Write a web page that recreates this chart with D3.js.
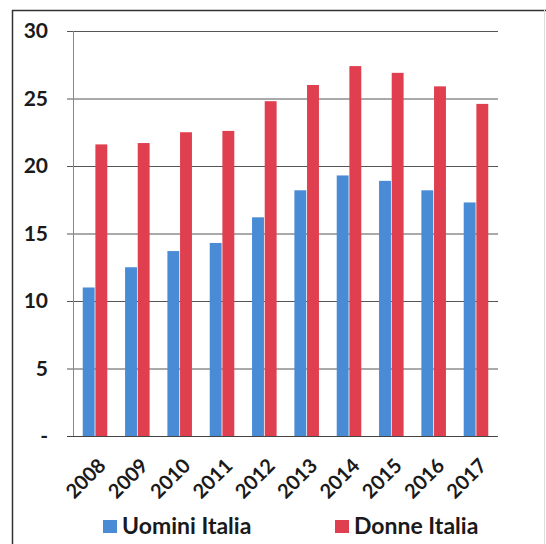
<!DOCTYPE html>
<html><head><meta charset="utf-8">
<script src="https://cdn.jsdelivr.net/npm/d3@7/dist/d3.min.js"></script>
<style>html,body{margin:0;padding:0;background:#fff}svg{display:block}text{font-family:Lato,"Open Sans",sans-serif;font-weight:bold;fill:#1a1a1a}</style>
</head><body><svg id="c" width="546" height="544"></svg>
<script>
const years = ["2008","2009","2010","2011","2012","2013","2014","2015","2016","2017"];
const uomini = [11.0,12.5,13.7,14.3,16.2,18.2,19.3,18.9,18.2,17.3];
const donne = [21.6,21.7,22.5,22.6,24.8,26.0,27.4,26.9,25.9,24.6];
const seriesNames = ["Uomini Italia","Donne Italia"];
const yTicks = [0,5,10,15,20,25,30];
const colors = ["#4a8bd6","#df3f4e"];

const svg = d3.select("#c");
const m = {l:73, r:498, t:31, b:436};
// frame
svg.append("line").attr("x1",12).attr("x2",546).attr("y1",10.5).attr("y2",10.5).attr("stroke","#333").attr("stroke-width",1.5);
svg.append("line").attr("x1",12.5).attr("x2",12.5).attr("y1",10).attr("y2",544).attr("stroke","#333").attr("stroke-width",1.5);
svg.append("line").attr("x1",544.5).attr("x2",544.5).attr("y1",10).attr("y2",544).attr("stroke","#ddd").attr("stroke-width",1);

const x = d3.scaleBand().domain(years).range([m.l,m.r]).paddingInner(0.42).paddingOuter(0.23);
const xs = d3.scaleBand().domain(seriesNames).range([0,x.bandwidth()]).paddingInner(0.06);
const y = d3.scaleLinear().domain([0,30]).range([m.b,m.t]);

// gridlines + y labels
const gy = svg.append("g").attr("transform",`translate(${m.r},0)`);
gy.call(d3.axisLeft(y).tickValues(yTicks).tickSize(m.r-m.l+6).tickFormat(d=>d===0?"-":d).tickPadding(19));
gy.select(".domain").remove();
gy.selectAll(".tick line").attr("stroke","#555").attr("stroke-width",1);
gy.selectAll(".tick text").style("font-size","21px").attr("fill","#1a1a1a");

// y axis line
svg.append("line").attr("x1",m.l+0.5).attr("x2",m.l+0.5).attr("y1",m.t).attr("y2",m.b).attr("stroke","#888");

const data = years.map((yr,i)=>({yr, vals:[uomini[i],donne[i]]}));
const g = svg.append("g");
data.forEach(d=>{
  d.vals.forEach((v,j)=>{
    g.append("rect").attr("x",x(d.yr)+xs(seriesNames[j])).attr("width",xs.bandwidth())
     .attr("y",y(v)).attr("height",y(0)-y(v)).attr("fill",colors[j]);
  });
});
// x axis baseline
svg.append("line").attr("x1",m.l-6).attr("x2",m.r).attr("y1",m.b+0.5).attr("y2",m.b+0.5).attr("stroke","#444");

const gx = svg.append("g").attr("transform",`translate(0,${m.b})`).call(d3.axisBottom(x).tickSize(0));
gx.select(".domain").remove();
gx.selectAll(".tick text").style("font-size","20px").attr("text-anchor","end")
  .attr("transform","translate(7,26) rotate(-45)").attr("dy","0.35em").attr("x",0).attr("y",0);

// legend
const lg = svg.append("g");
const lx = [103,335];
seriesNames.forEach((n,j)=>{
  lg.append("rect").attr("x",lx[j]).attr("y",520).attr("width",14).attr("height",13).attr("fill",colors[j]);
  lg.append("text").attr("x",lx[j]+19).attr("y",534).style("font-size","23px").text(n);
});
</script></body></html>
